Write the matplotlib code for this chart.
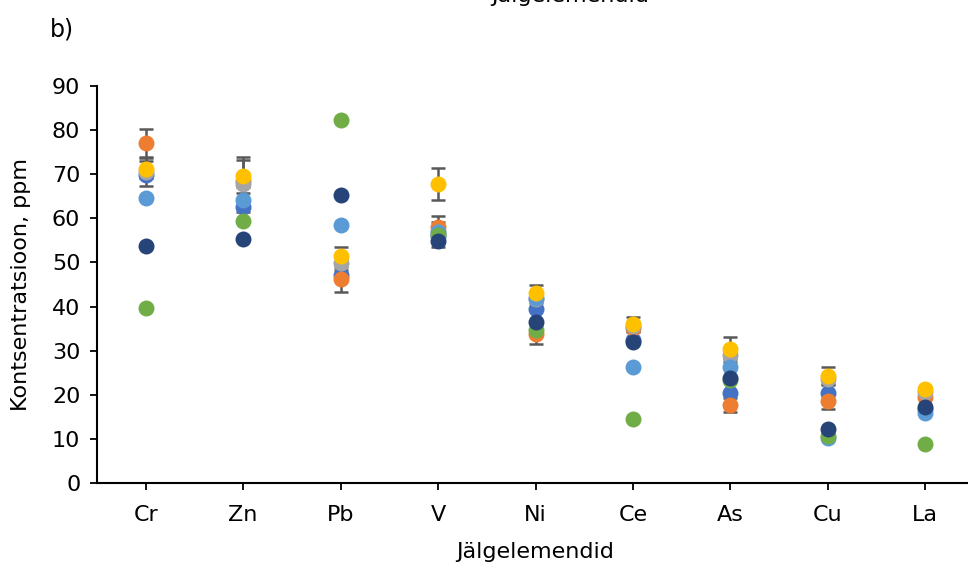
import matplotlib
matplotlib.use("Agg")
import matplotlib.pyplot as plt
import numpy as np

plt.rcParams['font.family'] = ['DejaVu Sans']

categories = ["Cr", "Zn", "Pb", "V", "Ni", "Ce", "As", "Cu", "La"]

s_blue = [69.8, 62.5, 47.2, 56.0, 39.4, 32.5, 20.3, 20.3, 16.8]
s_orange = [77.0, 68.5, 46.2, 58.1, 33.8, 35.2, 17.7, 18.7, 19.6]
s_gray = [70.5, 67.7, 49.8, 57.0, 41.7, 35.5, 29.0, 23.5, 20.6]
s_gold = [71.1, 69.5, 51.5, 67.7, 43.0, 36.1, 30.3, 24.3, 21.2]
s_lightblue = [64.7, 64.2, 58.4, 56.8, 42.0, 26.2, 26.2, 10.1, 15.9]
s_green = [39.6, 59.5, 82.3, 56.2, 34.7, 14.6, 23.4, 10.7, 8.8]
s_navy = [53.7, 55.3, 65.4, 54.9, 36.4, 32.0, 23.9, 12.2, 17.2]

err_orange = [3.2, 1.5, 2.8, 1.0, 2.3, 1.0, 1.5, 1.9, 0.5]
err_gray = [3.2, 6.2, 1.5, 3.5, 1.0, 1.0, 1.0, 1.0, 0.5]
err_gold = [2.0, 3.7, 1.9, 3.6, 1.8, 1.5, 2.9, 2.1, 0.5]

series = [
    (s_blue, None, "#4472C4"),
    (s_orange, err_orange, "#ED7D31"),
    (s_gray, err_gray, "#A5A5A5"),
    (s_lightblue, None, "#5B9BD5"),
    (s_green, None, "#70AD47"),
    (s_navy, None, "#264478"),
    (s_gold, err_gold, "#FFC000"),
]

fig = plt.figure(figsize=(9.68, 5.67), dpi=100)
ax = fig.add_axes([97/968, 1-483/567, (974-97)/968, (483-86)/567])

x = np.arange(len(categories))
for i, (vals, err, col) in enumerate(series):
    if err is not None:
        ax.errorbar(x, vals, yerr=err, fmt='none', ecolor='#595959',
                    elinewidth=1.8, capsize=5, capthick=1.8, zorder=2 + i * 0.1)
for i, (vals, err, col) in enumerate(series):
    ax.plot(x, vals, linestyle='none', marker='o', markersize=11.5,
            color=col, markeredgewidth=0, zorder=3 + i)

ax.set_xlim(-0.5, len(categories) - 0.5)
ax.set_ylim(0, 90)
ax.set_yticks(np.arange(0, 91, 10))
ax.set_xticks(x)
ax.set_xticklabels(categories)
ax.tick_params(axis='both', labelsize=16, length=5, width=1.3, color='black', direction='out')
ax.tick_params(axis='x', pad=11)
ax.tick_params(axis='y', pad=7)
for side in ['top', 'right']:
    ax.spines[side].set_visible(False)
for side in ['left', 'bottom']:
    ax.spines[side].set_linewidth(1.5)
    ax.spines[side].set_color('black')

ax.set_xlabel("Jälgelemendid", fontsize=16, labelpad=12)
ax.set_ylabel("Kontsentratsioon, ppm", fontsize=16, labelpad=15)

fig.text(570/968, 1 - 2/567, "Jälgelemendid", fontsize=16, ha='center', va='baseline')
fig.text(50/968, 1 - 30/567, "b)", fontsize=17, ha='left', va='center')

fig.savefig("out.png", dpi=100)
